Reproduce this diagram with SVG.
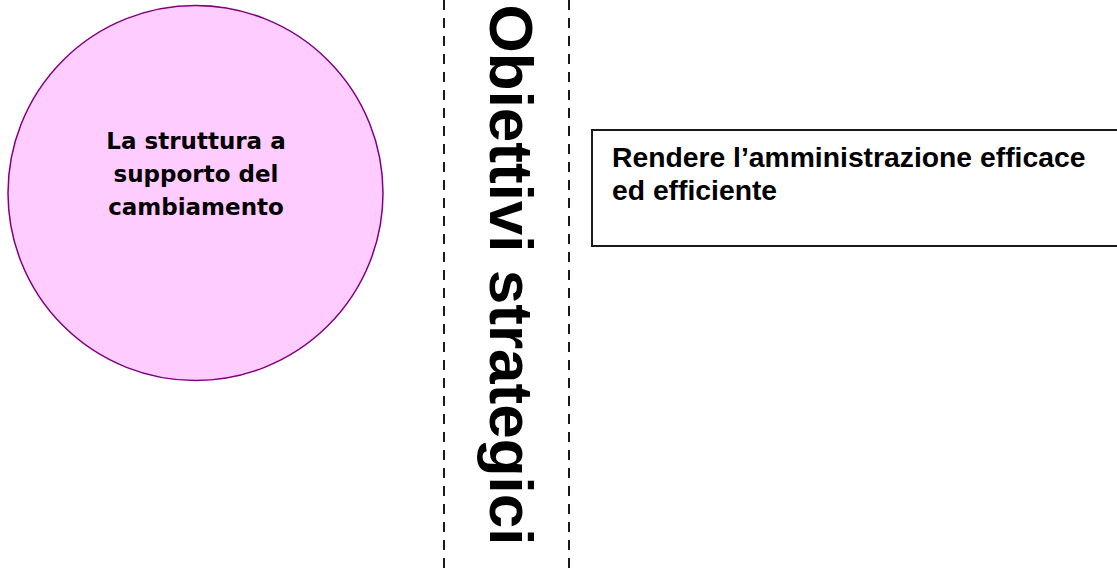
<svg xmlns="http://www.w3.org/2000/svg" width="1117" height="573" viewBox="0 0 1117 573">
<style>
.sep{stroke:#1a1a1a;stroke-width:2;stroke-dasharray:10 8;fill:none}
.circ{fill:#FFCCFF;stroke:#800080;stroke-width:1.5}
.ctext{font-family:"DejaVu Sans",sans-serif;font-weight:bold;font-size:23px;fill:#000;text-anchor:middle}
.title{font-family:"Liberation Sans",Arial,sans-serif;font-weight:bold;font-size:62px;fill:#000;text-anchor:middle}
.box{fill:#fff;stroke:#1a1a1a;stroke-width:2}
.btext{font-family:"Liberation Sans",Arial,sans-serif;font-weight:bold;font-size:28.3px;fill:#000}
</style>
<rect width="1117" height="573" fill="#fff"/>
<g id="connectors">
<line class="sep" x1="444" y1="0" x2="444" y2="573"/>
<line class="sep" x1="569" y1="0" x2="569" y2="573"/>
</g>
<g id="node-circle">
<circle class="circ" cx="195.5" cy="193" r="187.5"/>
<text class="ctext" x="196" y="149">La struttura a</text>
<text class="ctext" x="196" y="182">supporto del</text>
<text class="ctext" x="196" y="215">cambiamento</text>
</g>
<g id="node-title">
<text class="title" transform="translate(490,275) rotate(90)">Obiettivi strategici</text>
</g>
<g id="node-box">
<rect class="box" x="592" y="130" width="540" height="116"/>
<text class="btext" x="612" y="167">Rendere l’amministrazione efficace</text>
<text class="btext" x="612" y="200">ed efficiente</text>
</g>
</svg>
